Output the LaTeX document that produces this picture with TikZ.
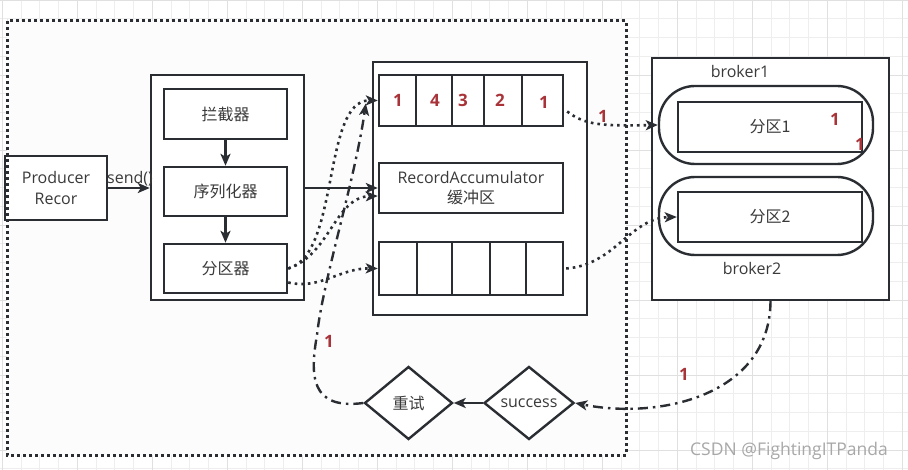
\documentclass[tikz,border=0pt]{standalone}
\usepackage{fontspec}
\setmainfont{Open Sans}
\newfontfamily\cjk{Noto Sans CJK SC}
\usetikzlibrary{arrows.meta,shapes.geometric,calc}
\definecolor{ln}{HTML}{2A2E33}
\definecolor{tx}{HTML}{3A3A3A}
\definecolor{rd}{HTML}{A8343A}
\definecolor{gmin}{HTML}{EEEEEE}
\definecolor{gmaj}{HTML}{E0E0E0}
\definecolor{bg}{HTML}{FCFCFD}
\definecolor{wm}{HTML}{A8A8A8}
\newcommand\fsz{\fontsize{16}{21}\selectfont}
\begin{document}
\begin{tikzpicture}[x=1pt,y=-1pt,
  box/.style={draw=ln,line width=2.4pt,fill=white,inner sep=0pt,text=tx,font=\fsz,align=center},
  dia/.style={box,diamond},
  lbl/.style={inner sep=0pt,text=tx,font=\fsz},
  num/.style={inner sep=0pt,text=rd,font=\fontsize{17}{17}\selectfont\bfseries},
  tip/.style={-{Stealth[length=12pt,width=10pt,inset=3pt]}},
  arr/.style={draw=ln,line width=2.4pt,tip},
  dotc/.style={draw=ln,line width=2.6pt,dash pattern=on 2.6pt off 4pt,tip},
  ddc/.style={draw=ln,line width=2.4pt,dash pattern=on 10pt off 5pt on 2.5pt off 5pt,tip}]
\useasboundingbox (0,0) rectangle (908,470);
\fill[white] (0,0) rectangle (908,470);
% grid
\foreach \i in {0,...,48} {\draw[gmin,line width=0.8pt] ({2.3+18.75*\i},0) -- ({2.3+18.75*\i},470);}
\foreach \j in {0,...,25} {\draw[gmin,line width=0.8pt] (0,{18.75*\j}) -- (908,{18.75*\j});}
\foreach \i in {0,...,12} {\draw[gmaj,line width=0.8pt] ({2.3+75*\i},0) -- ({2.3+75*\i},470);}
\foreach \j in {0,...,6} {\draw[gmaj,line width=0.8pt] (0,{75*\j}) -- (908,{75*\j});}
% frame background
\fill[bg] (7,21) rectangle (626,455);

% producer
\node[box,minimum width=102pt,minimum height=64pt] (prod) at (56,188) {Producer\\Recor};
% interceptor chain
\node[box,minimum width=153pt,minimum height=225pt] (chain) at (227.5,187.5) {};
\node[box,minimum width=123pt,minimum height=50pt] (intc) at (225.5,114) {\cjk 拦截器};
\node[box,minimum width=123pt,minimum height=49pt] (ser) at (225.5,191.5) {\cjk 序列化器};
\node[box,minimum width=123pt,minimum height=49pt] (part) at (225.5,268.5) {\cjk 分区器};
% accumulator
\node[box,minimum width=214pt,minimum height=253pt] (acc) at (480,188.5) {};
\node[box,minimum width=184pt,minimum height=51pt] (row1) at (471,100.5) {};
\node[box,minimum width=184pt,minimum height=50pt] (rbuf) at (471,188) {RecordAccumulator\\[-1pt]{\cjk 缓冲区}};
\node[box,minimum width=184pt,minimum height=53pt] (row2) at (471,268.5) {};
\foreach \x in {416,452,484,522} {\draw[ln,line width=2.4pt] (\x,75) -- (\x,126);}
\foreach \x in {417,452,490,526} {\draw[ln,line width=2.4pt] (\x,242) -- (\x,295);}
\node[num] (n1) at (398,100) {1};
\node[num] (n2) at (435,100) {4};
\node[num] (n3) at (463,100) {3};
\node[num] (n4) at (500,100) {2};
\node[num] (n5) at (544,102) {1};
% brokers
\node[box,minimum width=237pt,minimum height=242pt] (brk) at (770.5,179) {};
\node[lbl] (bk1) at (740,72) {broker1};
\node[box,rounded corners=36pt,minimum width=214pt,minimum height=78pt] (b1) at (766,125) {};
\node[box,minimum width=184pt,minimum height=50pt] (p1) at (770,127) {\cjk 分区1};
\node[box,rounded corners=36pt,minimum width=214pt,minimum height=78pt] (b2) at (766,216) {};
\node[box,minimum width=184pt,minimum height=50pt] (p2) at (770,217) {\cjk 分区2};
\node[lbl] (bk2) at (752,269) {broker2};
\node[num] (n6) at (835,119) {1};
\node[num] (n7) at (860,144) {1};
% diamonds
\node[dia,minimum width=90pt,minimum height=73pt] (succ) at (529,403) {success};
\node[dia,minimum width=88pt,minimum height=73pt] (retry) at (408.5,403) {\cjk 重试};

% solid connectors
\draw[arr] (prod.east) -- (prod.east -| chain.west);
\node[lbl,anchor=south] (send) at (130,186) {send()};
\draw[arr] (intc.south) -- (ser.north);
\draw[arr] (ser.south) -- (part.north);
\draw[arr] (chain.east |- rbuf.west) -- (rbuf.west);

% dotted connectors from partitioner
\coordinate (plo) at ($(part.east)+(0,14)$);
\coordinate (rbin) at ($(rbuf.west)+(0,8)$);
\draw[dotc] (part.east) .. controls (340,255) and (322,100) .. (row1.west);
\draw[dotc] (part.east) .. controls (330,255) and (335,197) .. (rbin);
\draw[dotc] (plo) .. controls (320,290) and (340,268) .. (row2.west);

% dotted to brokers
\coordinate (r1out) at ($(row1.east)+(3,11)$);
\coordinate (r2out) at ($(row2.east)+(2,0)$);
\draw[dotc] (r1out) .. controls (585,125) and (600,126) .. (b1.west);
\node[num] (n8) at (603,116) {1};
\draw[dotc] (r2out) .. controls (615,265) and (630,218) .. (p2.west);

% dash-dot return path
\draw[ddc] (brk.south) .. controls (770,395) and (660,420) .. (succ.east);
\node[num] (n9) at (684,374) {1};
\draw[arr] (succ.west) -- (retry.east);
\coordinate (rtend) at ($(row1.west)+(-12,3)$);
\draw[ddc] (retry.west) .. controls (310,410) and (310,375) .. (317,335) .. controls (323,280) and (355,180) .. (rtend);
\node[num] (n10) at (329,341) {1};

% frame border
\draw[ln,line width=3pt,dash pattern=on 3pt off 3pt] (7,21) rectangle (626,455);
% watermark
\node[inner sep=0pt,text=wm,font=\fontsize{17.5}{20}\selectfont] (wmk) at (789,451) {CSDN @FightingITPanda};
\end{tikzpicture}
\end{document}
